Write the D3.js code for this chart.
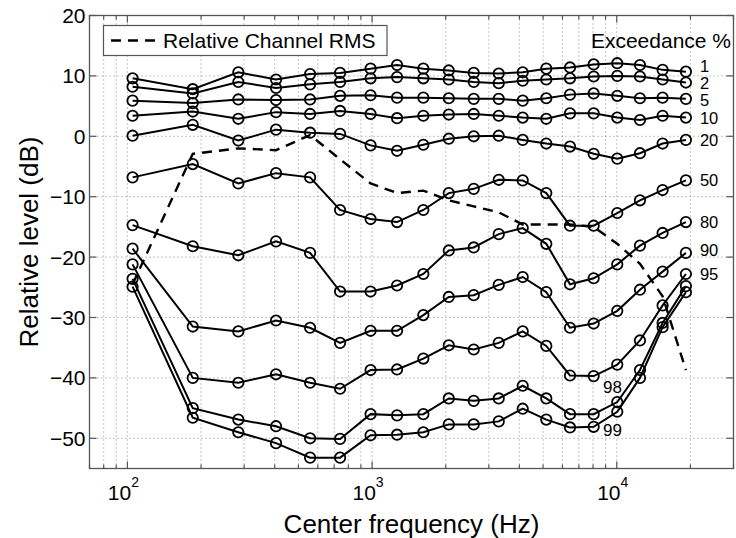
<!DOCTYPE html>
<html><head><meta charset="utf-8">
<script src="https://cdn.jsdelivr.net/npm/d3@7"></script>
<style>
body{margin:0;background:#fff}
text{font-family:"Liberation Sans",Arial,Helvetica,sans-serif;fill:#000}
</style>
</head><body>
<svg id="c" width="736" height="538"></svg>
<script>
// ---- data ----
const freqs = [105, 185, 284, 405, 558, 740, 986, 1265, 1620, 2058, 2603, 3293, 4127, 5152, 6440, 8047, 10047, 12440, 15395, 19170];
const rms   = [-24.5, -2.9, -2.0, -2.3, 0.2, -3.8, -7.8, -9.4, -9.0, -10.6, -11.6, -12.6, -14.6, -14.6, -14.6, -15.0, -17.8, -21.1, -26.5, -38.7];
const p1  = [9.6, 7.8, 10.6, 9.4, 10.3, 10.5, 11.2, 11.8, 11.2, 10.9, 10.5, 10.4, 10.6, 11.2, 11.4, 11.9, 12.1, 11.8, 11.0, 10.7];
const p2  = [8.2, 7.1, 9.0, 8.0, 8.6, 9.0, 9.6, 9.8, 9.6, 9.4, 9.0, 8.8, 9.2, 9.4, 9.6, 9.9, 10.0, 9.9, 9.4, 8.9];
const p5  = [5.9, 5.5, 6.1, 6.0, 6.1, 6.7, 6.8, 6.4, 6.4, 6.3, 6.2, 6.2, 5.9, 6.3, 6.9, 7.1, 6.7, 6.3, 6.4, 6.2];
const p10 = [3.4, 4.1, 2.9, 4.0, 3.7, 4.2, 3.7, 3.0, 3.4, 3.6, 3.7, 3.4, 3.1, 2.9, 3.8, 3.8, 3.1, 2.7, 3.4, 3.1];
const p20 = [0.1, 1.9, -0.7, 1.1, 0.6, 0.4, -1.5, -2.4, -1.4, -0.4, 0.0, 0.1, -0.6, -1.2, -1.7, -2.9, -3.7, -2.8, -1.2, -0.6];
const p50 = [-6.8, -4.6, -7.8, -6.1, -6.8, -12.2, -13.7, -14.2, -12.2, -9.4, -8.7, -7.2, -7.3, -9.4, -14.8, -14.8, -12.7, -10.6, -8.9, -7.3];
const p80 = [-14.7, -18.2, -19.7, -17.4, -19.3, -25.7, -25.7, -24.7, -22.8, -18.9, -18.4, -16.2, -15.2, -17.8, -24.5, -23.5, -21.2, -18.1, -16.0, -14.2];
const p90 = [-18.6, -31.5, -32.3, -30.5, -31.7, -34.2, -32.2, -32.2, -29.6, -26.6, -26.3, -24.6, -23.3, -25.8, -31.7, -31.0, -28.9, -25.4, -22.4, -19.3];
const p95 = [-21.2, -40.0, -40.8, -39.4, -40.8, -41.8, -38.7, -38.6, -36.8, -34.6, -35.3, -34.2, -32.3, -34.7, -39.6, -39.7, -37.8, -33.8, -28.0, -22.8];
const p98 = [-23.6, -45.0, -46.9, -48.0, -50.0, -50.1, -46.0, -46.2, -46.0, -43.4, -43.8, -43.4, -41.3, -43.4, -46.0, -46.0, -44.0, -38.7, -30.9, -24.8];
const p99 = [-24.9, -46.6, -49.0, -50.8, -53.2, -53.2, -49.5, -49.4, -49.0, -47.7, -47.7, -47.2, -45.1, -46.9, -48.2, -48.1, -45.6, -40.0, -31.6, -25.8];
const seriesNames = ["1", "2", "5", "10", "20", "50", "80", "90", "95", "98", "99"];
const seriesValues = [p1, p2, p5, p10, p20, p50, p80, p90, p95, p98, p99];
const endLabelled = ["1", "2", "5", "10", "20", "50", "80", "90", "95"];
const innerLabels = [{name: "98", f: 8780, v: -41.5}, {name: "99", f: 8780, v: -48.6}];
const yTicks = [20, 10, 0, -10, -20, -30, -40, -50];
const xMajor = [100, 1000, 10000];
const legendText = "Relative Channel RMS";
const titleText = "Exceedance %";
const xTitle = "Center frequency (Hz)";
const yTitle = "Relative level (dB)";

// ---- chart ----
const svg = d3.select("#c");
const L = 89.5, R = 733.5, T = 15.5, B = 468.5;
const x = d3.scaleLog().domain([70, 30000]).range([L, R]);
const y = d3.scaleLinear().domain([-55, 20]).range([B, T]);
const axisCol = "#555";

// grid
const xGridTicks = x.ticks().filter(d => d > 70 && d < 30000);
svg.append("g").selectAll("line").data(xGridTicks).join("line")
  .attr("x1", d => x(d)).attr("x2", d => x(d)).attr("y1", T).attr("y2", B)
  .attr("stroke", "#888").attr("stroke-width", 1).attr("stroke-dasharray", "1,3");
svg.append("g").selectAll("line").data(yTicks.filter(d => d > -55 && d < 20)).join("line")
  .attr("x1", L).attr("x2", R).attr("y1", d => y(d)).attr("y2", d => y(d))
  .attr("stroke", "#888").attr("stroke-width", 1).attr("stroke-dasharray", "1,3");

// box
svg.append("rect").attr("x", L).attr("y", T).attr("width", R - L).attr("height", B - T)
  .attr("fill", "none").attr("stroke", axisCol).attr("stroke-width", 1.3);

// ticks (inward)
const xAllTicks = x.ticks();
const isMajor = d => xMajor.includes(d);
const tk = svg.append("g").attr("stroke", axisCol).attr("stroke-width", 1.2);
xAllTicks.forEach(d => {
  const len = isMajor(d) ? 7 : 4;
  tk.append("line").attr("x1", x(d)).attr("x2", x(d)).attr("y1", B).attr("y2", B - len);
  tk.append("line").attr("x1", x(d)).attr("x2", x(d)).attr("y1", T).attr("y2", T + len);
});
yTicks.forEach(d => {
  tk.append("line").attr("x1", L).attr("x2", L + 7).attr("y1", y(d)).attr("y2", y(d));
  tk.append("line").attr("x1", R).attr("x2", R - 7).attr("y1", y(d)).attr("y2", y(d));
});

// y tick labels
const fmt = d3.format("d");
svg.append("g").selectAll("text").data(yTicks).join("text")
  .attr("x", L - 4).attr("y", d => y(d)).attr("dy", "0.36em")
  .attr("text-anchor", "end").attr("font-size", 21).text(d => fmt(d));

// x tick labels 10^n
const xl = svg.append("g");
xMajor.forEach(d => {
  const t = xl.append("text").attr("x", x(d) - 4).attr("y", 500).attr("text-anchor", "middle").attr("font-size", 21);
  t.append("tspan").text("10");
  t.append("tspan").attr("dy", -13).attr("font-size", 14).text(String(Math.round(Math.log10(d))));
});

// titles
svg.append("text").attr("x", (L + R) / 2).attr("y", 533).attr("text-anchor", "middle")
  .attr("font-size", 26).text(xTitle);
svg.append("text").attr("transform", `translate(38,${(T + B) / 2}) rotate(-90)`)
  .attr("text-anchor", "middle").attr("font-size", 26).text(yTitle);

// series lines
const line = d3.line().x((d, i) => x(freqs[i])).y(d => y(d));
const sg = svg.append("g");
seriesValues.forEach((vals, k) => {
  sg.append("path").attr("d", line(vals)).attr("fill", "none")
    .attr("stroke", "#000").attr("stroke-width", 2);
});
// dashed RMS
svg.append("path").attr("d", line(rms)).attr("fill", "none").attr("stroke", "#000")
  .attr("stroke-width", 2.4).attr("stroke-dasharray", "10,7");
// markers
seriesValues.forEach((vals, k) => {
  sg.append("g").selectAll("circle").data(vals).join("circle")
    .attr("cx", (d, i) => x(freqs[i])).attr("cy", d => y(d)).attr("r", 5.2)
    .attr("fill", "none").attr("stroke", "#000").attr("stroke-width", 1.8);
});

// end labels (small vertical nudges to keep neighbours apart, as in the original)
const nudge = {"1": -5.5, "2": 0.5, "5": 1.5, "90": -3};
endLabelled.forEach(name => {
  const vals = seriesValues[seriesNames.indexOf(name)];
  svg.append("text").attr("x", x(freqs[freqs.length - 1]) + 14)
    .attr("y", y(vals[vals.length - 1]) + (nudge[name] || 0))
    .attr("dy", "0.36em").attr("font-size", 16.5).text(name);
});
innerLabels.forEach(l => {
  svg.append("text").attr("x", x(l.f)).attr("y", y(l.v)).attr("dy", "0.36em")
    .attr("font-size", 17).text(l.name);
});

// title inside
svg.append("text").attr("x", 731).attr("y", 48).attr("text-anchor", "end")
  .attr("font-size", 21).text(titleText);

// legend
svg.append("rect").attr("x", 103.5).attr("y", 25.5).attr("width", 283.5).attr("height", 30)
  .attr("fill", "#fff").attr("stroke", axisCol).attr("stroke-width", 1.2);
svg.append("line").attr("x1", 111).attr("x2", 157).attr("y1", 40.5).attr("y2", 40.5)
  .attr("stroke", "#000").attr("stroke-width", 2.4).attr("stroke-dasharray", "10,7");
svg.append("text").attr("x", 163).attr("y", 48).attr("font-size", 21).text(legendText);
</script>
</body></html>
